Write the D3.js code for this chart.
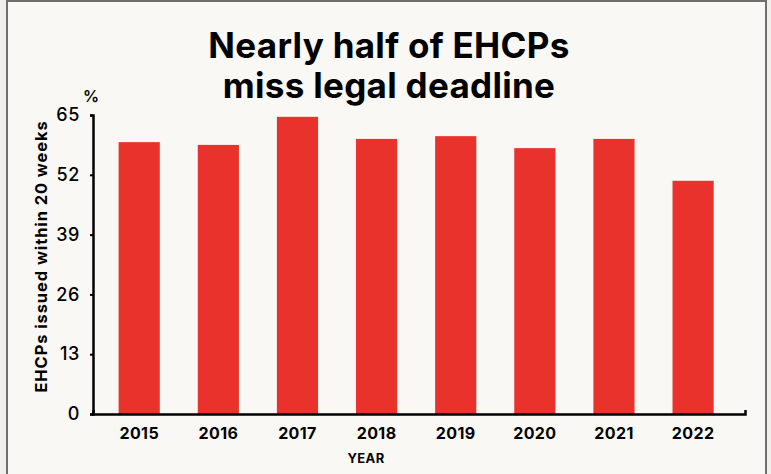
<!DOCTYPE html>
<html>
<head>
<meta charset="utf-8">
<script src="https://cdn.jsdelivr.net/npm/d3@7"></script>
<style>
  body { margin: 0; background: #f0efeb; }
  #chart { font-family: Inter, "Open Sans", sans-serif; }
</style>
</head>
<body>
<div id="chart"></div>
<script>
// EHCPs issued within 20 weeks, %
let years = ["2015", "2016", "2017", "2018", "2019", "2020", "2021", "2022"];
let pctIssued = [59.1, 58.5, 64.6, 59.8, 60.4, 57.8, 59.8, 50.7];
let yTicks = [0, 13, 26, 39, 52, 65];
let titleLines = ["Nearly half of EHCPs", "miss legal deadline"];

let data = years.map((y, i) => ({ year: y, value: pctIssued[i] }));

let W = 771, H = 474;
let margin = { top: 115, right: 26, bottom: 60, left: 93 };

let svg = d3.select("#chart").append("svg")
  .attr("width", W)
  .attr("height", H);

// card background + thin frame
svg.append("rect")
  .attr("x", 7).attr("y", 1)
  .attr("width", 759).attr("height", H)
  .attr("fill", "#f9f8f4")
  .attr("stroke", "#6f6f6f")
  .attr("stroke-width", 2);

let xScale = d3.scaleBand()
  .domain(years)
  .range([margin.left, W - margin.right])
  .paddingInner(0.48)
  .paddingOuter(0.36)
  .align(0.45);

let yScale = d3.scaleLinear()
  .domain([0, 65])
  .range([H - margin.bottom, margin.top]);

// title
svg.append("g").selectAll("text")
  .data(titleLines)
  .join("text")
  .attr("x", 389)
  .attr("y", (d, i) => 58 + i * 40)
  .attr("text-anchor", "middle")
  .style("font-size", "35px")
  .style("font-weight", 700)
  .style("letter-spacing", "0.3px")
  .attr("fill", "#000")
  .text(d => d);

// bars
svg.append("g").selectAll("rect")
  .data(data)
  .join("rect")
  .attr("x", d => xScale(d.year))
  .attr("width", xScale.bandwidth())
  .attr("y", d => yScale(d.value))
  .attr("height", d => yScale(0) - yScale(d.value))
  .attr("fill", "#e8322b");

// y axis
let yAxis = svg.append("g")
  .attr("transform", `translate(${margin.left},0)`)
  .call(d3.axisLeft(yScale).tickValues(yTicks).tickSize(3).tickSizeOuter(3).tickPadding(10));
yAxis.select(".domain").attr("stroke", "#000").attr("stroke-width", 2.5);
yAxis.selectAll(".tick line").attr("stroke", "#000").attr("stroke-width", 2);
yAxis.selectAll(".tick text")
  .style("font-family", "Inter, sans-serif")
  .style("font-size", "18px")
  .style("font-weight", 500)
  .style("letter-spacing", "0.6px")
  .attr("fill", "#000");

// x axis
let xAxis = svg.append("g")
  .attr("transform", `translate(0,${yScale(0)})`)
  .call(d3.axisBottom(xScale).tickSize(0).tickSizeOuter(-4).tickPadding(14));
xAxis.select(".domain").attr("stroke", "#000").attr("stroke-width", 2.5);
xAxis.selectAll(".tick text")
  .style("font-family", "Inter, sans-serif")
  .style("font-size", "16px")
  .style("font-weight", 700)
  .style("letter-spacing", "0.4px")
  .attr("fill", "#000");

// axis labels
svg.append("text")
  .attr("x", 91).attr("y", 102)
  .attr("text-anchor", "middle")
  .style("font-size", "16px")
  .style("font-weight", 600)
  .text("%");

svg.append("text")
  .attr("transform", `translate(47,${(yScale(0) + yScale(65)) / 2 - 8}) rotate(-90)`)
  .attr("text-anchor", "middle")
  .style("font-size", "16.5px")
  .style("font-weight", 700)
  .style("letter-spacing", "0.9px")
  .text("EHCPs issued within 20 weeks");

svg.append("text")
  .attr("x", 366).attr("y", 463)
  .attr("text-anchor", "middle")
  .style("font-size", "13px")
  .style("font-weight", 700)
  .style("letter-spacing", "0.4px")
  .text("YEAR");
</script>
</body>
</html>
